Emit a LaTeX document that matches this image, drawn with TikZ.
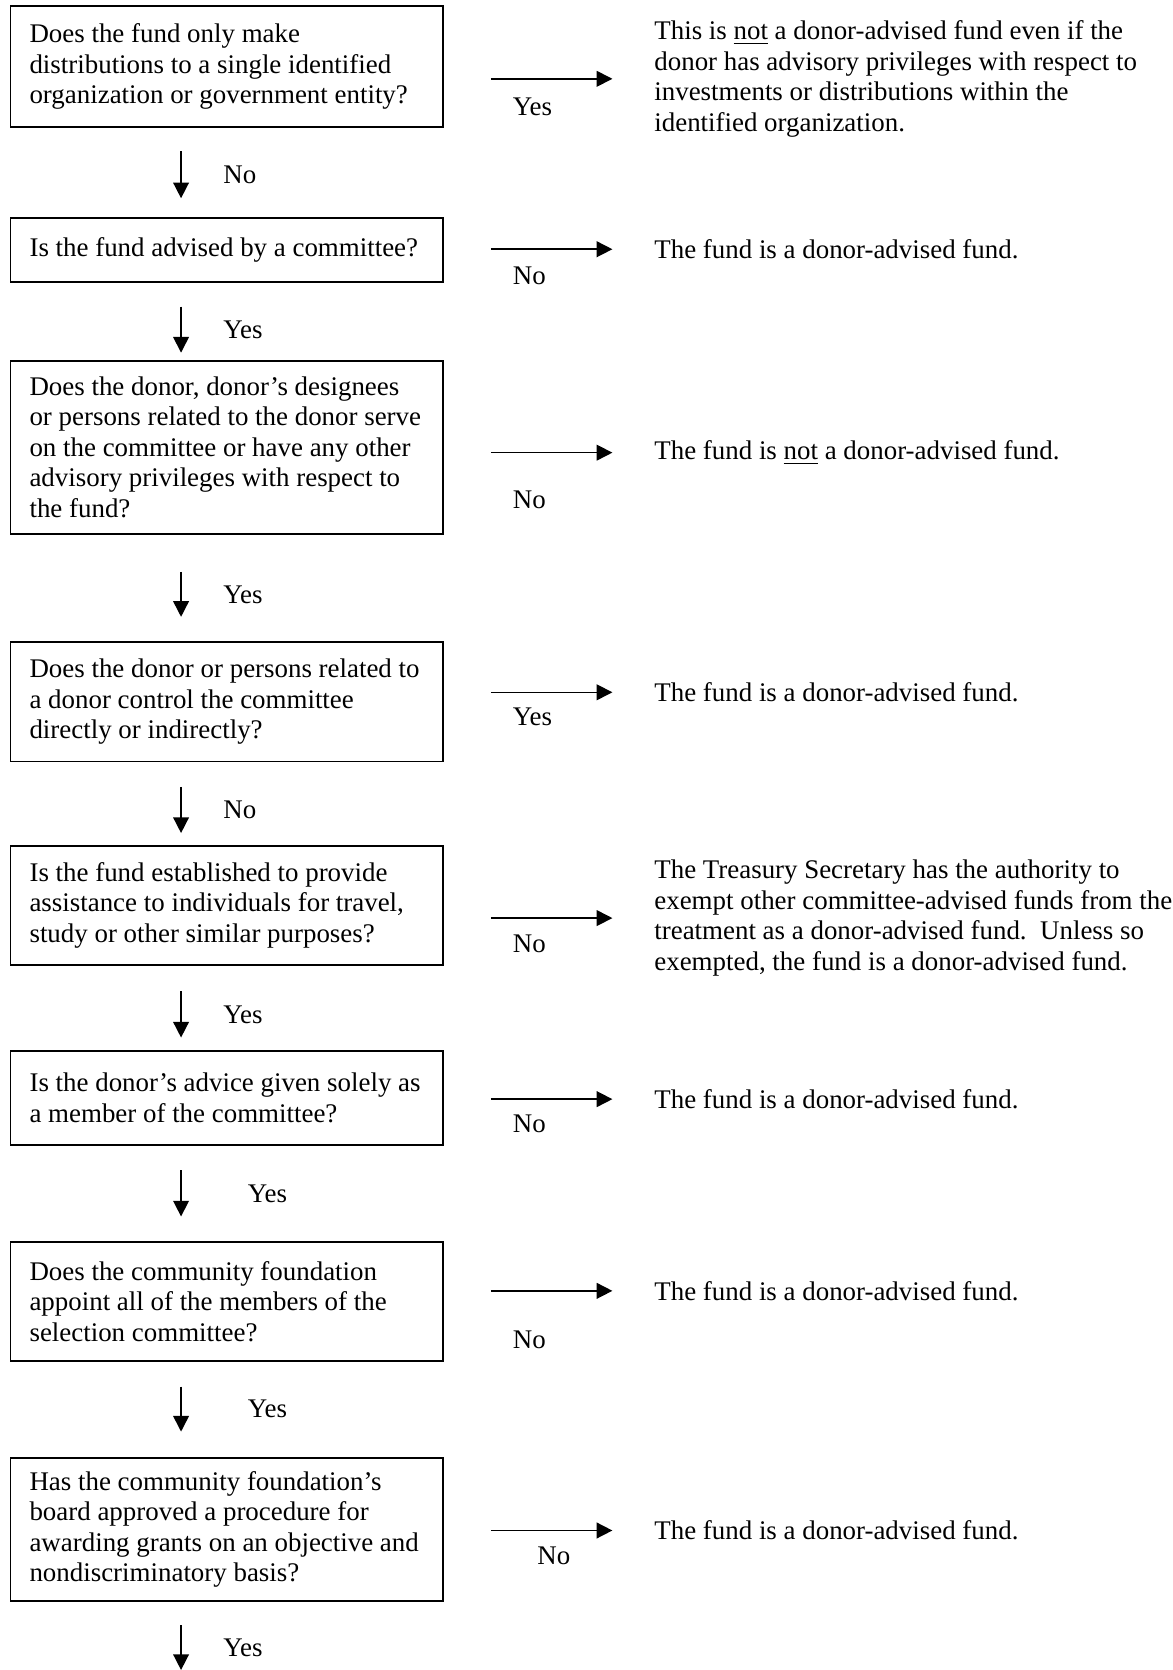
\documentclass[tikz,border=0pt]{standalone}
\usepackage{fontspec}
\setmainfont{Liberation Serif}
\usetikzlibrary{arrows.meta,calc}
\tikzset{
  question/.style={draw, line width=0.8pt, minimum width=192.9pt, text width=176pt, inner xsep=8.45pt, align=flush left},
  answer/.style={anchor=west, inner sep=0pt, align=flush left},
  flow/.style={line width=0.7pt, -{Triangle[length=7pt,width=7pt]}},
  choice/.style={inner sep=0pt}
}
\begin{document}
\begin{tikzpicture}[x=0.475pt, y=-0.475pt, font=\fontsize{12}{13.6}\selectfont]
		\useasboundingbox (0,0) rectangle (1101,1568);
		
		% questions
		\node[question, minimum height=53.7pt] (q1) at (213,62.5) {Does the fund only make\\ distributions to a single identified\\ organization or government entity?};
		\node[question, minimum height=28.5pt] (q2) at (213,235) {Is the fund advised by a committee?};
		\node[question, minimum height=77pt] (q3) at (213,420) {Does the donor, donor’s designees\\ or persons related to the donor serve\\ on the committee or have any other\\ advisory privileges with respect to\\ the fund?};
		\node[question, minimum height=53.2pt] (q4) at (213,659) {Does the donor or persons related to\\ a donor control the committee\\ directly or indirectly?};
		\node[question, minimum height=53.2pt] (q5) at (213,850) {Is the fund established to provide\\ assistance to individuals for travel,\\ study or other similar purposes?};
		\node[question, minimum height=41.8pt] (q6) at (213,1031) {Is the donor’s advice given solely as\\ a member of the committee?};
		\node[question, minimum height=53.2pt] (q7) at (213,1222) {Does the community foundation\\ appoint all of the members of the\\ selection committee?};
		\node[question, minimum height=63.65pt] (q8) at (213,1436) {Has the community foundation’s\\ board approved a procedure for\\ awarding grants on an objective and\\ nondiscriminatory basis?};
		\coordinate (end) at (170,1568);
		
		% answers
		\node[answer] (a1) at (614,74) {This is \underline{not} a donor-advised fund even if the\\ donor has advisory privileges with respect to\\ investments or distributions within the\\ identified organization.};
		\node[answer] (a2) at (614,234) {The fund is a donor-advised fund.};
		\node[answer] (a3) at (614,425) {The fund is \underline{not} a donor-advised fund.};
		\node[answer] (a4) at (614,650) {The fund is a donor-advised fund.};
		\node[answer] (a5) at (614,862) {The Treasury Secretary has the authority to\\ exempt other committee-advised funds from the\\ treatment as a donor-advised fund.\ \ Unless so\\ exempted, the fund is a donor-advised fund.};
		\node[answer] (a6) at (614,1032) {The fund is a donor-advised fund.};
		\node[answer] (a7) at (614,1212) {The fund is a donor-advised fund.};
		\node[answer] (a8) at (614,1437) {The fund is a donor-advised fund.};
		
		% down arrows
		\draw[flow] ($(q1.south)+(-43,22)$) -- ($(q2.north)+(-43,-18)$) node[choice, midway, right=18.5pt] {No};
		\draw[flow] ($(q2.south)+(-43,22)$) -- ($(q3.north)+(-43,-7)$) node[choice, midway, right=18.5pt] {Yes};
		\draw[flow] ($(q3.south)+(-43,35)$) -- ($(q4.north)+(-43,-23)$) node[choice, midway, right=18.5pt] {Yes};
		\draw[flow] ($(q4.south)+(-43,23)$) -- ($(q5.north)+(-43,-11)$) node[choice, midway, right=18.5pt] {No};
		\draw[flow] ($(q5.south)+(-43,24)$) -- ($(q6.north)+(-43,-12)$) node[choice, midway, right=18.5pt] {Yes};
		\draw[flow] ($(q6.south)+(-43,23)$) -- ($(q7.north)+(-43,-23)$) node[choice, midway, right=29.5pt] {Yes};
		\draw[flow] ($(q7.south)+(-43,23)$) -- ($(q8.north)+(-43,-24)$) node[choice, midway, right=29.5pt] {Yes};
		\draw[flow] ($(q8.south)+(-43,22)$) -- (end) node[choice, midway, right=18.5pt] {Yes};
		
		% side arrows
		\draw[flow] ($(q1.east |- a1.west)+(44,0)$) -- ($(a1.west)+(-39,0)$) node[choice, at start, anchor=west, xshift=9.5pt, yshift=-12.35pt] {Yes};
		\draw[flow] ($(q2.east |- a2.west)+(44,0)$) -- ($(a2.west)+(-39,0)$) node[choice, at start, anchor=west, xshift=9.5pt, yshift=-11.9pt] {No};
		\draw[flow] ($(q3.east |- a3.west)+(44,0)$) -- ($(a3.west)+(-39,0)$) node[choice, at start, anchor=west, xshift=9.5pt, yshift=-20.9pt] {No};
		\draw[flow] ($(q4.east |- a4.west)+(44,0)$) -- ($(a4.west)+(-39,0)$) node[choice, at start, anchor=west, xshift=9.5pt, yshift=-10.9pt] {Yes};
		\draw[flow] ($(q5.east |- a5.west)+(44,0)$) -- ($(a5.west)+(-39,0)$) node[choice, at start, anchor=west, xshift=9.5pt, yshift=-11.4pt] {No};
		\draw[flow] ($(q6.east |- a6.west)+(44,0)$) -- ($(a6.west)+(-39,0)$) node[choice, at start, anchor=west, xshift=9.5pt, yshift=-10.9pt] {No};
		\draw[flow] ($(q7.east |- a7.west)+(44,0)$) -- ($(a7.west)+(-39,0)$) node[choice, at start, anchor=west, xshift=9.5pt, yshift=-21.85pt] {No};
		\draw[flow] ($(q8.east |- a8.west)+(44,0)$) -- ($(a8.west)+(-39,0)$) node[choice, at start, anchor=west, xshift=20.4pt, yshift=-11.4pt] {No};
		\end{tikzpicture}
\end{document}
